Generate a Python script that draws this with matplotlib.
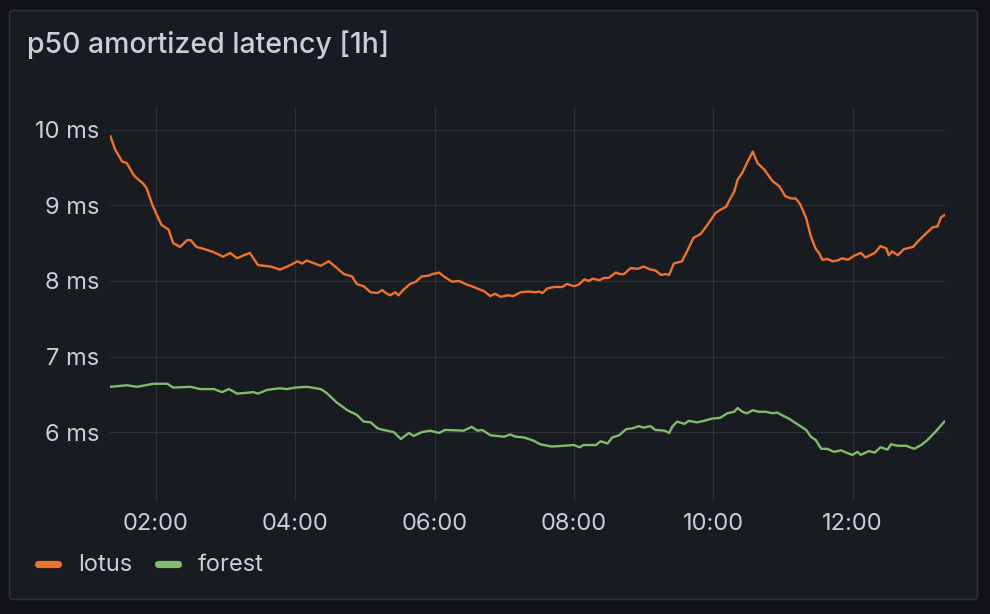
import matplotlib
matplotlib.use("Agg")
import matplotlib.pyplot as plt
from matplotlib.patches import FancyBboxPatch
from matplotlib.ticker import FixedLocator, FuncFormatter

plt.rcParams['font.family'] = ['Inter', 'DejaVu Sans']

title = "p50 amortized latency [1h]"
series_names = ["lotus", "forest"]
series_colors = ["#EE7230", "#7EBD6C"]

# minutes since midnight / latency in ms
lotus_t = [81, 85, 91, 95, 101, 105, 109, 112, 117, 121, 125, 131, 135, 141, 147, 150,
           155, 162, 170, 178, 184, 190, 196, 201, 208, 219, 227, 236, 242, 246, 250,
           262, 269, 276, 282, 289, 293, 299, 305, 311, 315, 318, 322, 326, 329, 333,
           339, 344, 349, 355, 358, 364, 368, 375, 381, 388, 392, 400, 402, 408, 412,
           417, 423, 428, 434, 441, 447, 450, 453, 457, 463, 470, 474, 480, 484, 489,
           493, 496, 502, 506, 510, 516, 520, 523, 529, 535, 540, 546, 550, 555, 559,
           562, 566, 573, 578, 583, 589, 594, 598, 602, 606, 611, 614, 618, 621, 625,
           629, 634, 638, 644, 651, 657, 662, 667, 671, 675, 680, 684, 688, 691, 694,
           698, 703, 707, 711, 716, 721, 727, 731, 739, 744, 749, 751, 754, 759, 764,
           772, 776, 782, 789, 793, 796, 799]
lotus_v = [9.91, 9.74, 9.58, 9.56, 9.40, 9.34, 9.29, 9.23, 9.01, 8.87, 8.74, 8.68, 8.50,
           8.45, 8.54, 8.54, 8.45, 8.42, 8.38, 8.32, 8.37, 8.30, 8.34, 8.37, 8.21, 8.19,
           8.15, 8.21, 8.26, 8.23, 8.27, 8.20, 8.26, 8.17, 8.09, 8.06, 7.96, 7.93, 7.85,
           7.84, 7.88, 7.84, 7.81, 7.85, 7.81, 7.88, 7.96, 7.99, 8.06, 8.07, 8.09, 8.11,
           8.06, 7.99, 8.00, 7.95, 7.93, 7.88, 7.87, 7.80, 7.83, 7.79, 7.81, 7.80, 7.85,
           7.86, 7.85, 7.86, 7.84, 7.90, 7.92, 7.92, 7.96, 7.93, 7.95, 8.02, 8.00, 8.03,
           8.01, 8.04, 8.04, 8.11, 8.09, 8.09, 8.17, 8.16, 8.19, 8.15, 8.14, 8.08, 8.09,
           8.08, 8.23, 8.26, 8.41, 8.57, 8.62, 8.72, 8.81, 8.90, 8.94, 8.98, 9.07, 9.18,
           9.34, 9.43, 9.56, 9.71, 9.56, 9.47, 9.32, 9.25, 9.12, 9.09, 9.09, 9.01, 8.83,
           8.59, 8.43, 8.37, 8.28, 8.29, 8.26, 8.27, 8.30, 8.28, 8.33, 8.37, 8.31, 8.37,
           8.46, 8.43, 8.34, 8.39, 8.34, 8.42, 8.45, 8.52, 8.61, 8.71, 8.72, 8.84, 8.87]

forest_t = [81, 95, 104, 118, 130, 135, 150, 158, 170, 177, 183, 190, 198, 204, 208, 216,
            227, 233, 240, 250, 262, 267, 276, 285, 293, 299, 305, 311, 316, 325, 331,
            338, 342, 349, 356, 364, 369, 385, 392, 397, 401, 408, 420, 425, 430, 437,
            445, 451, 461, 471, 480, 485, 488, 499, 503, 509, 513, 519, 525, 530, 536,
            540, 546, 550, 558, 562, 565, 569, 575, 579, 586, 592, 599, 606, 612, 618,
            621, 625, 629, 634, 639, 645, 651, 655, 661, 665, 674, 680, 684, 688, 693,
            698, 704, 710, 716, 720, 724, 727, 734, 739, 744, 750, 753, 759, 766, 773,
            779, 784, 791, 795, 799]
forest_v = [6.60, 6.62, 6.60, 6.64, 6.64, 6.59, 6.60, 6.57, 6.57, 6.53, 6.57, 6.51, 6.52,
            6.53, 6.51, 6.56, 6.58, 6.57, 6.59, 6.60, 6.57, 6.52, 6.39, 6.29, 6.23, 6.14,
            6.13, 6.05, 6.03, 6.00, 5.91, 5.99, 5.95, 6.00, 6.02, 5.99, 6.03, 6.02, 6.07,
            6.02, 6.03, 5.96, 5.94, 5.97, 5.94, 5.93, 5.89, 5.84, 5.81, 5.82, 5.83, 5.80,
            5.83, 5.83, 5.88, 5.85, 5.93, 5.96, 6.04, 6.05, 6.08, 6.06, 6.08, 6.03, 6.02,
            5.99, 6.08, 6.14, 6.11, 6.15, 6.13, 6.15, 6.18, 6.19, 6.25, 6.27, 6.32, 6.27,
            6.25, 6.29, 6.27, 6.27, 6.25, 6.26, 6.21, 6.18, 6.09, 6.03, 5.94, 5.90, 5.78,
            5.78, 5.74, 5.76, 5.72, 5.70, 5.74, 5.70, 5.75, 5.73, 5.80, 5.77, 5.84, 5.82,
            5.82, 5.78, 5.83, 5.89, 6.00, 6.07, 6.14]

x_ticks = [120, 240, 360, 480, 600, 720]
y_ticks = [6, 7, 8, 9, 10]

W, H = 990, 614
text_col = "#ccccdc"
grid_col = "#2e3035"
panel_col = "#181b1f"

fig = plt.figure(figsize=(W / 100, H / 100), dpi=100, facecolor="#111217")

# panel frame, drawn in pixel units
bg = fig.add_axes([0, 0, 1, 1])
bg.set_xlim(0, W)
bg.set_ylim(H, 0)
bg.axis("off")
bg.add_patch(FancyBboxPatch((9.5, 10.5), 968, 589, boxstyle="round,pad=0,rounding_size=4",
                            facecolor=panel_col, edgecolor="#2d3036", linewidth=1.2))
bg.text(27, 45, title, color=text_col, fontsize=20.5, fontweight="medium", va="center", ha="left")

# legend
for i, (name, col) in enumerate(zip(series_names, series_colors)):
    x0 = [38, 158][i]
    bg.plot([x0, x0 + 20], [563.5, 563.5], color=col, lw=5.2, solid_capstyle="round")
    bg.text(x0 + 40, 565, name, color=text_col, fontsize=17, va="center", ha="left")

ax = fig.add_axes([110 / W, (H - 501) / H, (945 - 110) / W, (501 - 107) / H])
ax.set_facecolor(panel_col)
ax.plot(lotus_t, lotus_v, color=series_colors[0], lw=1.7)
ax.plot(forest_t, forest_v, color=series_colors[1], lw=1.7)
ax.set_xlim(80.6, 799.5)
ax.set_ylim(5.09, 10.30)

ax.xaxis.set_major_locator(FixedLocator(x_ticks))
ax.xaxis.set_major_formatter(FuncFormatter(lambda v, p: "%02d:%02d" % (v // 60, v % 60)))
ax.yaxis.set_major_locator(FixedLocator(y_ticks))
ax.yaxis.set_major_formatter(FuncFormatter(lambda v, p: "%d ms" % v))
ax.grid(True, color=grid_col, lw=0.8)
ax.set_axisbelow(True)
for s in ax.spines.values():
    s.set_visible(False)
ax.tick_params(axis="both", length=0, colors=text_col, labelsize=17)
ax.tick_params(axis="y", pad=8)
ax.tick_params(axis="x", pad=9)

fig.savefig("out.png", dpi=100, facecolor=fig.get_facecolor())
